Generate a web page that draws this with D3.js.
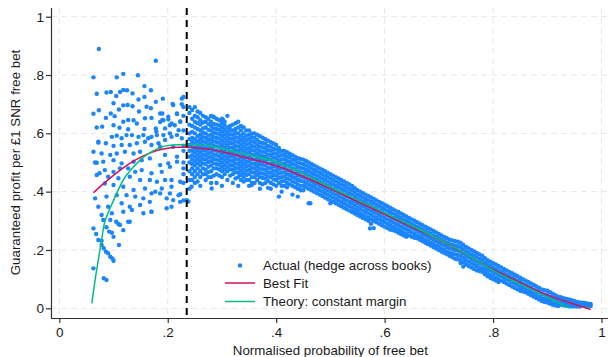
<!DOCTYPE html>
<html>
<head>
<meta charset="utf-8">
<script src="https://cdn.jsdelivr.net/npm/d3@7"></script>
<style>
  body { margin: 0; background: #fff; }
  svg { display: block; font-family: "Liberation Sans", Arial, sans-serif; }
</style>
</head>
<body>
<svg id="chart" width="608" height="357"></svg>
<script>
// ---- data ----
const xTicks = [0, 0.2, 0.4, 0.6, 0.8, 1];
const yTicks = [0, 0.2, 0.4, 0.6, 0.8, 1];
const tickLabels = ["0", ".2", ".4", ".6", ".8", "1"];
const cutoff = 0.235;

const legendLabels = ["Actual (hedge across books)", "Best Fit", "Theory: constant margin"];

// sparse points, mostly left of the cutoff
const actualSparse = [
  [0.073,0.889],[0.178,0.849],[0.063,0.792],[0.106,0.792],[0.118,0.804],[0.145,0.799],
  [0.069,0.736],[0.087,0.74],[0.095,0.742],[0.105,0.728],[0.112,0.742],[0.118,0.749],
  [0.125,0.748],[0.135,0.737],[0.157,0.762],[0.169,0.748],[0.146,0.716],[0.157,0.725],
  [0.100,0.703],[0.118,0.696],[0.126,0.697],[0.135,0.693],[0.178,0.708],[0.191,0.719],
  [0.161,0.691],[0.169,0.686],[0.209,0.701],[0.226,0.719],[0.226,0.70],[0.073,0.679],
  [0.063,0.667],[0.110,0.682],[0.095,0.668],[0.086,0.653],[0.102,0.659],[0.118,0.640],
  [0.127,0.646],[0.137,0.645],[0.147,0.675],[0.158,0.652],[0.170,0.653],[0.186,0.668],
  [0.190,0.668],[0.217,0.666],[0.192,0.645],[0.201,0.648],[0.223,0.641],[0.069,0.620],
  [0.079,0.623],[0.100,0.628],[0.111,0.619],[0.127,0.614],[0.143,0.634],[0.157,0.615],
  [0.178,0.617],[0.186,0.639],[0.204,0.628],[0.213,0.628],[0.179,0.606],
  [0.097,0.588],[0.106,0.592],[0.115,0.583],[0.124,0.594],[0.134,0.594],[0.146,0.588],
  [0.155,0.594],[0.164,0.583],[0.170,0.588],[0.180,0.594],[0.192,0.594],[0.204,0.60],
  [0.217,0.594],[0.072,0.568],[0.086,0.566],[0.100,0.557],[0.115,0.56],[0.130,0.56],
  [0.143,0.566],[0.158,0.571],[0.170,0.56],[0.183,0.566],[0.063,0.537],[0.078,0.531],
  [0.094,0.526],[0.106,0.531],[0.121,0.537],[0.137,0.531],[0.149,0.537],[0.066,0.50],
  [0.081,0.503],[0.100,0.508],[0.115,0.497],[0.137,0.503],[0.152,0.508],[0.167,0.514],
  [0.186,0.491],[0.201,0.497],[0.217,0.503],[0.084,0.474],[0.100,0.468],[0.112,0.48],
  [0.127,0.48],[0.140,0.468],[0.152,0.474],[0.170,0.463],[0.189,0.468],[0.204,0.485],
  [0.069,0.457],[0.090,0.451],[0.109,0.446],[0.130,0.451],[0.149,0.44],[0.167,0.44],
  [0.180,0.434],[0.195,0.44],[0.207,0.44],[0.223,0.434],[0.084,0.428],[0.100,0.423],
  [0.118,0.417],[0.137,0.406],[0.158,0.411],[0.177,0.40],[0.189,0.411],[0.207,0.417],
  [0.066,0.377],[0.087,0.383],[0.106,0.388],[0.124,0.388],[0.140,0.383],[0.155,0.377],
  [0.170,0.394],[0.186,0.394],[0.204,0.394],[0.220,0.388],[0.072,0.348],[0.090,0.348],
  [0.115,0.36],[0.130,0.348],[0.149,0.354],[0.167,0.365],[0.198,0.377],[0.210,0.371],
  [0.223,0.365],[0.078,0.32],[0.097,0.326],[0.118,0.331],[0.134,0.337],[0.170,0.331],
  [0.198,0.343],[0.094,0.303],[0.127,0.297],[0.063,0.274],[0.081,0.303],[0.087,0.278],
  [0.092,0.263],[0.097,0.259],[0.100,0.245],[0.105,0.297],[0.109,0.289],[0.112,0.286],
  [0.118,0.268],[0.130,0.297],[0.068,0.255],[0.072,0.234],[0.078,0.232],[0.078,0.217],
  [0.082,0.206],[0.086,0.194],[0.090,0.189],[0.094,0.177],[0.098,0.171],[0.100,0.163],
  [0.110,0.217],[0.063,0.137],[0.082,0.103],[0.087,0.097],[0.072,0.571],[0.069,0.499],
  [0.074,0.463],[0.155,0.326],[0.170,0.331],[0.207,0.348],[0.223,0.391],[0.238,0.366],
  [0.21,0.697],[0.217,0.668],[0.201,0.657],[0.19,0.646],[0.207,0.634],[0.223,0.64],
  [0.195,0.617],[0.22,0.611],[0.207,0.588],[0.195,0.577],[0.226,0.583],[0.186,0.554],
  [0.21,0.554],[0.229,0.557],[0.195,0.526],[0.217,0.52],[0.229,0.725],[0.229,0.69],
  [0.229,0.66],[0.229,0.61],[0.229,0.54],[0.229,0.50],[0.229,0.48],[0.229,0.46],
  [0.229,0.43],[0.229,0.37],[0.244,0.417],[0.281,0.411],[0.235,0.371],[0.355,0.423],
  [0.385,0.413],[0.44,0.383],[0.405,0.383],[0.463,0.36],[0.573,0.274],[0.776,0.128],
  [0.85,0.068],[0.745,0.143],[0.302,0.646],[0.284,0.657]
];

// dense band to the right of the cutoff: one column of values per x
const bandX = d3.range(24, 99).map(i => i / 100);
const bandY = [
  [0.69,0.67,0.63,0.60,0.58,0.56,0.54,0.52,0.50,0.47,0.44,0.41],
  [0.69,0.66,0.64,0.62,0.60,0.58,0.565,0.55,0.535,0.52,0.505,0.49,0.47,0.45,0.43],
  [0.67,0.645,0.63,0.61,0.595,0.58,0.565,0.55,0.535,0.52,0.505,0.49,0.47,0.45,0.42],
  [0.655,0.64,0.62,0.60,0.585,0.57,0.555,0.54,0.525,0.51,0.495,0.475,0.46,0.44],
  [0.66,0.64,0.625,0.61,0.595,0.58,0.565,0.55,0.535,0.52,0.505,0.49,0.47,0.45,0.43],
  [0.65,0.63,0.615,0.60,0.585,0.57,0.555,0.54,0.525,0.51,0.495,0.48,0.46,0.43],
  [0.65,0.635,0.62,0.605,0.59,0.575,0.56,0.545,0.53,0.515,0.50,0.485,0.47,0.45,0.42],
  [0.66,0.62,0.605,0.59,0.575,0.56,0.545,0.53,0.515,0.50,0.485,0.47,0.44],
  [0.63,0.61,0.595,0.58,0.565,0.55,0.535,0.52,0.505,0.49,0.475,0.46,0.43],
  [0.64,0.62,0.60,0.585,0.57,0.555,0.54,0.525,0.51,0.495,0.48,0.465,0.45,0.42],
  [0.62,0.60,0.585,0.57,0.555,0.54,0.525,0.51,0.495,0.48,0.465,0.45,0.435],
  [0.61,0.595,0.58,0.565,0.55,0.535,0.52,0.505,0.49,0.475,0.46,0.44,0.42],
  [0.60,0.585,0.57,0.555,0.54,0.525,0.51,0.495,0.48,0.465,0.45,0.43],
  [0.59,0.57,0.555,0.54,0.525,0.51,0.495,0.48,0.465,0.45,0.43,0.41],
  [0.58,0.565,0.55,0.535,0.52,0.505,0.49,0.475,0.46,0.445,0.43],
  [0.57,0.555,0.54,0.525,0.51,0.495,0.48,0.465,0.45,0.43,0.41],
  [0.56,0.545,0.53,0.515,0.50,0.485,0.47,0.455,0.44,0.42],
  [0.54,0.525,0.51,0.495,0.48,0.465,0.45,0.435,0.42,0.40],
  [0.535,0.52,0.505,0.49,0.475,0.46,0.445,0.43,0.415],
  [0.525,0.51,0.495,0.48,0.465,0.45,0.435,0.42,0.39],
  [0.515,0.50,0.485,0.47,0.455,0.44,0.425,0.41],
  [0.51,0.495,0.48,0.465,0.45,0.435,0.42,0.405],
  [0.50,0.485,0.47,0.455,0.44,0.425,0.41,0.36],
  [0.49,0.475,0.46,0.445,0.43,0.415,0.40],
  [0.48,0.465,0.45,0.435,0.42,0.405,0.39],
  [0.47,0.455,0.44,0.425,0.41,0.395,0.38],
  [0.46,0.445,0.43,0.415,0.40,0.385,0.37,0.36],
  [0.45,0.435,0.42,0.405,0.39,0.375,0.36],
  [0.44,0.425,0.41,0.395,0.38,0.365,0.35],
  [0.43,0.415,0.40,0.385,0.37,0.355,0.34],
  [0.42,0.405,0.39,0.375,0.36,0.345,0.33],
  [0.405,0.39,0.375,0.36,0.345,0.33,0.32],
  [0.395,0.38,0.365,0.35,0.335,0.32,0.31],
  [0.385,0.37,0.355,0.34,0.325,0.31,0.30],
  [0.375,0.36,0.345,0.33,0.315,0.30,0.275],
  [0.365,0.35,0.335,0.32,0.305,0.29],
  [0.355,0.34,0.325,0.31,0.295,0.28],
  [0.345,0.33,0.315,0.30,0.285,0.27],
  [0.335,0.32,0.305,0.29,0.275,0.265],
  [0.325,0.31,0.295,0.28,0.265,0.255],
  [0.315,0.30,0.285,0.27,0.255,0.245],
  [0.305,0.29,0.275,0.26,0.245],
  [0.295,0.28,0.265,0.25,0.24],
  [0.285,0.27,0.255,0.24,0.23],
  [0.275,0.26,0.245,0.23,0.22],
  [0.265,0.25,0.235,0.22,0.21],
  [0.255,0.24,0.225,0.21,0.20],
  [0.245,0.23,0.215,0.20,0.19],
  [0.235,0.22,0.205,0.19,0.18],
  [0.23,0.215,0.20,0.185,0.17],
  [0.225,0.21,0.195,0.18,0.165,0.155],
  [0.21,0.195,0.18,0.165,0.15],
  [0.20,0.185,0.17,0.155,0.14],
  [0.19,0.175,0.16,0.145,0.13],
  [0.18,0.165,0.15,0.135,0.125],
  [0.165,0.15,0.135,0.12,0.11],
  [0.155,0.14,0.125,0.11,0.10],
  [0.145,0.13,0.115,0.10,0.09],
  [0.135,0.12,0.105,0.09],
  [0.125,0.11,0.095,0.08],
  [0.115,0.10,0.085,0.07],
  [0.105,0.09,0.075,0.06],
  [0.095,0.08,0.065,0.055],
  [0.085,0.07,0.055,0.045],
  [0.075,0.06,0.045,0.035],
  [0.065,0.05,0.035,0.025],
  [0.06,0.045,0.03,0.02],
  [0.05,0.035,0.02,0.012],
  [0.04,0.028,0.015,0.008],
  [0.035,0.022,0.01],
  [0.03,0.018,0.008],
  [0.025,0.015,0.007],
  [0.02,0.012,0.006],
  [0.018,0.01],
  [0.015,0.008]
];

// in-between columns of the same band (x = .245, .255, ... .975)
const bandX2 = d3.range(0, 74).map(i => (245 + 10 * i) / 1000);
const bandY2 = [
  [0.68,0.65,0.625,0.605,0.585,0.57,0.555,0.54,0.525,0.51,0.495,0.48,0.46,0.44],
  [0.675,0.655,0.635,0.615,0.59,0.572,0.557,0.542,0.527,0.512,0.497,0.48,0.46,0.435],
  [0.66,0.637,0.617,0.602,0.587,0.572,0.557,0.542,0.527,0.512,0.497,0.48,0.46],
  [0.65,0.632,0.612,0.592,0.577,0.562,0.547,0.532,0.517,0.502,0.485,0.467,0.45],
  [0.655,0.632,0.617,0.602,0.587,0.572,0.557,0.542,0.527,0.512,0.497,0.48,0.455],
  [0.645,0.627,0.612,0.597,0.582,0.567,0.552,0.537,0.522,0.507,0.492,0.476,0.455],
  [0.64,0.627,0.612,0.597,0.582,0.567,0.552,0.537,0.522,0.507,0.492,0.477,0.46],
  [0.625,0.612,0.597,0.582,0.567,0.552,0.537,0.522,0.507,0.492,0.477,0.455],
  [0.635,0.615,0.602,0.587,0.572,0.557,0.542,0.527,0.512,0.497,0.482,0.467,0.445],
  [0.625,0.61,0.592,0.577,0.562,0.547,0.532,0.517,0.502,0.487,0.472,0.457,0.44],
  [0.61,0.592,0.577,0.562,0.547,0.532,0.517,0.502,0.487,0.472,0.457,0.44],
  [0.60,0.587,0.572,0.557,0.542,0.527,0.512,0.497,0.482,0.467,0.45,0.43],
  [0.595,0.577,0.562,0.547,0.532,0.517,0.502,0.487,0.472,0.457,0.44],
  [0.585,0.567,0.552,0.537,0.522,0.507,0.492,0.477,0.462,0.447,0.425],
  [0.575,0.557,0.542,0.527,0.512,0.497,0.482,0.467,0.452,0.437],
  [0.565,0.547,0.532,0.517,0.502,0.487,0.472,0.457,0.442,0.425],
  [0.55,0.537,0.522,0.507,0.492,0.477,0.462,0.447,0.43],
  [0.54,0.527,0.512,0.497,0.482,0.467,0.452,0.437,0.42],
  [0.53,0.517,0.502,0.487,0.472,0.457,0.442,0.425],
  [0.52,0.507,0.492,0.477,0.462,0.447,0.432,0.415],
  [0.512,0.497,0.482,0.467,0.452,0.437,0.42,0.405],
  [0.505,0.49,0.475,0.46,0.445,0.43,0.415],
  [0.495,0.48,0.465,0.45,0.435,0.42,0.405],
  [0.485,0.47,0.455,0.44,0.425,0.41,0.395],
  [0.475,0.46,0.445,0.43,0.415,0.40,0.385],
  [0.465,0.45,0.435,0.42,0.405,0.39,0.375],
  [0.455,0.44,0.425,0.41,0.395,0.38,0.365],
  [0.445,0.43,0.415,0.40,0.385,0.37,0.355],
  [0.435,0.42,0.405,0.39,0.375,0.36,0.345],
  [0.425,0.41,0.395,0.38,0.365,0.35,0.335],
  [0.412,0.397,0.382,0.367,0.352,0.337,0.325],
  [0.40,0.385,0.37,0.355,0.34,0.325,0.315],
  [0.39,0.375,0.36,0.345,0.33,0.315,0.305],
  [0.38,0.365,0.35,0.335,0.32,0.305,0.29],
  [0.37,0.355,0.34,0.325,0.31,0.295],
  [0.36,0.345,0.33,0.315,0.30,0.285],
  [0.35,0.335,0.32,0.305,0.29,0.275],
  [0.34,0.325,0.31,0.295,0.28,0.268],
  [0.33,0.315,0.30,0.285,0.27,0.26],
  [0.32,0.305,0.29,0.275,0.26,0.25],
  [0.31,0.295,0.28,0.265,0.25],
  [0.30,0.285,0.27,0.255,0.242],
  [0.29,0.275,0.26,0.245,0.235],
  [0.28,0.265,0.25,0.235,0.225],
  [0.27,0.255,0.24,0.225,0.215],
  [0.26,0.245,0.23,0.215,0.205],
  [0.25,0.235,0.22,0.205,0.195],
  [0.24,0.225,0.21,0.195,0.185],
  [0.233,0.218,0.203,0.188,0.175],
  [0.228,0.213,0.198,0.183,0.168],
  [0.218,0.203,0.188,0.173,0.158],
  [0.205,0.19,0.175,0.16,0.145],
  [0.195,0.18,0.165,0.15,0.135],
  [0.185,0.17,0.155,0.14,0.128],
  [0.172,0.157,0.142,0.128,0.117],
  [0.16,0.145,0.13,0.115,0.105],
  [0.15,0.135,0.12,0.105,0.095],
  [0.14,0.125,0.11,0.095],
  [0.13,0.115,0.10,0.085],
  [0.12,0.105,0.09,0.075],
  [0.11,0.095,0.08,0.065],
  [0.10,0.085,0.07,0.058],
  [0.09,0.075,0.06,0.05],
  [0.08,0.065,0.05,0.04],
  [0.07,0.055,0.04,0.03],
  [0.062,0.047,0.032,0.022],
  [0.055,0.04,0.025,0.016],
  [0.045,0.032,0.018,0.01],
  [0.038,0.025,0.012],
  [0.032,0.02,0.009],
  [0.028,0.016,0.007],
  [0.022,0.013,0.006],
  [0.019,0.011],
  [0.016,0.009]
];

const bestFitX = [0.063,0.08,0.10,0.12,0.14,0.16,0.18,0.20,0.22,0.25,0.28,0.30,0.35,0.40,0.45,0.50,0.55,0.60,0.65,0.70,0.75,0.80,0.85,0.90,0.94,0.98];
const bestFitY = [0.396,0.425,0.456,0.484,0.508,0.527,0.541,0.549,0.552,0.551,0.545,0.537,0.514,0.489,0.452,0.41,0.366,0.322,0.279,0.236,0.185,0.133,0.088,0.046,0.02,-0.004];

const theoryX = [0.060,0.066,0.072,0.078,0.084,0.10,0.118,0.13,0.149,0.161,0.173,0.192,0.22,0.247,0.28,0.33,0.40,0.45,0.50,0.55,0.60,0.65,0.70,0.75,0.80,0.85,0.90,0.942];
const theoryY = [0.017,0.097,0.166,0.234,0.297,0.37,0.44,0.47,0.508,0.526,0.54,0.555,0.561,0.562,0.556,0.534,0.502,0.462,0.415,0.372,0.328,0.283,0.237,0.186,0.13,0.083,0.038,0.0];

// ---- layout ----
const W = 608, H = 357;
const C = { pts: "#1a85ff", fit: "#d41159", theory: "#00bf7f" };
const axisLeftX = 51, axisBottomY = 318, plotTop = 8;

const x = d3.scaleLinear().domain([0, 1]).range([59.3, 601.5]);
const y = d3.scaleLinear().domain([0, 1]).range([308.3, 16.7]);

const svg = d3.select("#chart");

// grid
const grid = svg.append("g").attr("stroke", "#e6e6e6").attr("stroke-width", 1).attr("stroke-dasharray", "6,4");
grid.selectAll(".gy").data(yTicks).join("line")
  .attr("x1", axisLeftX).attr("x2", W).attr("y1", d => y(d)).attr("y2", d => y(d));
grid.selectAll(".gx").data(xTicks).join("line")
  .attr("y1", plotTop).attr("y2", axisBottomY).attr("x1", d => x(d)).attr("x2", d => x(d));

// points
const bandPts = bandX.flatMap((bx, i) => bandY[i].map(v => [bx, v]))
  .concat(bandX2.flatMap((bx, i) => bandY2[i].map(v => [bx, v])));
const allPts = actualSparse.concat(bandPts);
svg.append("g").attr("fill", C.pts)
  .selectAll("circle").data(allPts).join("circle")
  .attr("cx", d => x(d[0])).attr("cy", d => y(d[1])).attr("r", 2.2);

// curves
const line = d3.line().x(d => x(d[0])).y(d => y(d[1])).curve(d3.curveCatmullRom);
svg.append("path").datum(bestFitX.map((v, i) => [v, bestFitY[i]]))
  .attr("d", line).attr("fill", "none").attr("stroke", C.fit).attr("stroke-width", 1.5);
svg.append("path").datum(theoryX.map((v, i) => [v, theoryY[i]]))
  .attr("d", line).attr("fill", "none").attr("stroke", C.theory).attr("stroke-width", 1.5);

// cutoff line
svg.append("line")
  .attr("x1", x(cutoff)).attr("x2", x(cutoff)).attr("y1", plotTop).attr("y2", axisBottomY)
  .attr("stroke", "#000").attr("stroke-width", 2).attr("stroke-dasharray", "7,5");

// axes
const fmt = d => tickLabels[xTicks.indexOf(d)];
const gx = svg.append("g").attr("transform", `translate(0,${axisBottomY})`)
  .call(d3.axisBottom(x).tickValues(xTicks).tickFormat(fmt).tickSize(5).tickSizeOuter(0));
gx.select(".domain").attr("d", `M${axisLeftX},0.5H${W}`);
const gy = svg.append("g").attr("transform", `translate(${axisLeftX},0)`)
  .call(d3.axisLeft(y).tickValues(yTicks).tickFormat(d => tickLabels[yTicks.indexOf(d)]).tickSize(5).tickSizeOuter(0));
gy.select(".domain").attr("d", `M0.5,${plotTop}V${axisBottomY}`);
[gx, gy].forEach(g => {
  g.selectAll(".domain").attr("stroke", "#333").attr("stroke-width", 1.2);
  g.selectAll(".tick line").attr("stroke", "#333").attr("stroke-width", 1.2);
  g.selectAll("text").attr("font-size", 13.5).attr("fill", "#1a1a1a")
    .attr("font-family", "'Liberation Sans', Arial, sans-serif");
});
gx.selectAll("text").attr("y", 9);
gy.selectAll("text").attr("x", -7);

// axis titles
svg.append("text").attr("x", (x(0) + x(1)) / 2).attr("y", 354.5)
  .attr("text-anchor", "middle").attr("font-size", 13.3).attr("fill", "#1a1a1a")
  .text("Normalised probability of free bet");
svg.append("text").attr("transform", `translate(20,${(y(0) + y(1)) / 2}) rotate(-90)`)
  .attr("text-anchor", "middle").attr("font-size", 13.3).attr("fill", "#1a1a1a")
  .text("Guaranteed profit per £1 SNR free bet");

// legend
const lg = svg.append("g");
lg.append("rect").attr("x", 215).attr("y", 254).attr("width", 225).attr("height", 52.5).attr("fill", "#fff");
const rowsY = [265.5, 283, 301.5];
lg.append("circle").attr("cx", 240).attr("cy", rowsY[0]).attr("r", 2.2).attr("fill", C.pts);
lg.append("line").attr("x1", 225).attr("x2", 255).attr("y1", rowsY[1]).attr("y2", rowsY[1])
  .attr("stroke", C.fit).attr("stroke-width", 1.5);
lg.append("line").attr("x1", 225).attr("x2", 255).attr("y1", rowsY[2]).attr("y2", rowsY[2])
  .attr("stroke", C.theory).attr("stroke-width", 1.5);
lg.selectAll("text").data(legendLabels).join("text")
  .attr("x", 263).attr("y", (d, i) => rowsY[i]).attr("dy", "0.36em")
  .attr("font-size", 13.3).attr("fill", "#1a1a1a").text(d => d);
</script>
</body>
</html>
